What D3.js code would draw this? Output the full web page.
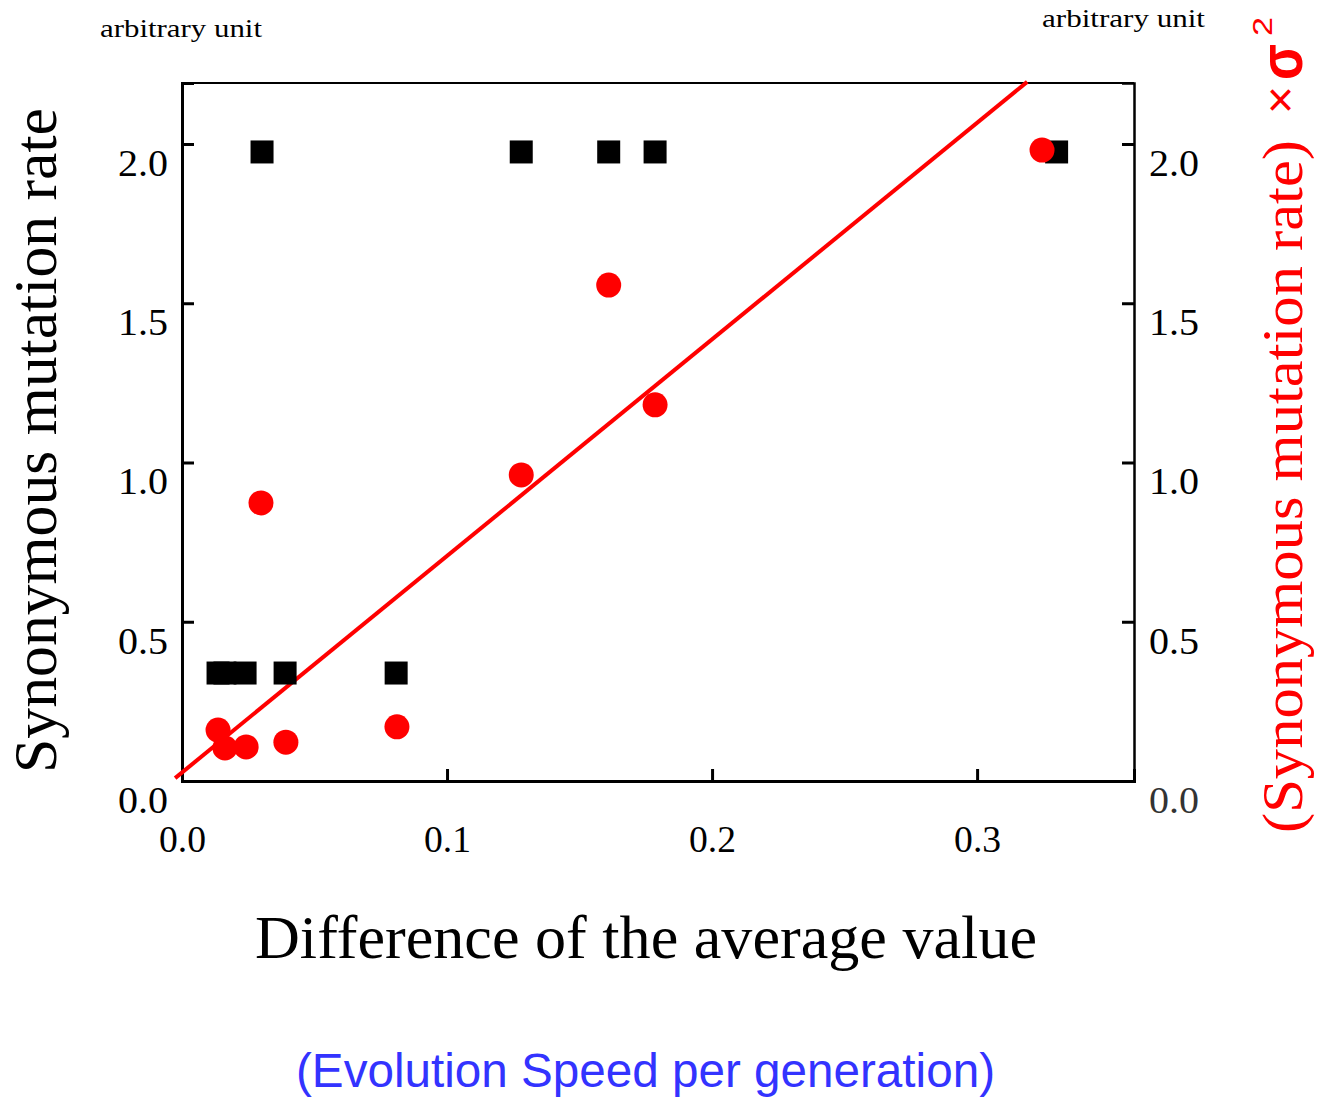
<!DOCTYPE html>
<html><head><meta charset="utf-8">
<script src="https://cdn.jsdelivr.net/npm/d3@7"></script>
<style>body{margin:0;background:#fff}</style>
</head><body>
<script>
const xTicks = [0.0, 0.1, 0.2, 0.3];
const yTicks = [0.0, 0.5, 1.0, 1.5, 2.0];
const squareX = [0.0136, 0.0162, 0.0238, 0.0389, 0.0808, 0.0302, 0.128, 0.161, 0.1785, 0.330];
const squareY = [0.339, 0.339, 0.339, 0.339, 0.339, 1.975, 1.975, 1.975, 1.975, 1.975];
const circleX = [0.0136, 0.0162, 0.0242, 0.0392, 0.0811, 0.0298, 0.128, 0.161, 0.1785, 0.3245];
const circleY = [0.160, 0.104, 0.107, 0.122, 0.170, 0.873, 0.961, 1.557, 1.181, 1.981];
const fitLineX = [-0.0026, 0.3189];
const fitLineY = [0.009, 2.195];

const W = 1322, H = 1099;
const L = 182, R = 1134, T = 83, B = 781;
const svg = d3.select("body").append("svg").attr("width", W).attr("height", H);
const x = d3.scaleLinear().domain([0, 0.3592]).range([L, R]);
const y = d3.scaleLinear().domain([0, 2.1915]).range([B, T]);
const serif = "'Liberation Serif','Times New Roman',serif";
const sans = "'Liberation Sans',Arial,sans-serif";

// frame
svg.append("line").attr("x1", L).attr("x2", R).attr("y1", T).attr("y2", T).attr("stroke", "#000").attr("stroke-width", 2);

// axes with inward ticks
const gx = svg.append("g").attr("transform", `translate(0,${B})`)
  .call(d3.axisTop(x).tickValues(xTicks).tickSize(12).tickFormat(""));
const gy = svg.append("g").attr("transform", `translate(${L},0)`)
  .call(d3.axisRight(y).tickValues(yTicks).tickSize(12).tickFormat(""));
const gy2 = svg.append("g").attr("transform", `translate(${R},0)`)
  .call(d3.axisLeft(y).tickValues(yTicks).tickSize(12).tickFormat(""));
[gx, gy, gy2].forEach(g => {
  g.selectAll("path").attr("stroke", "#000").attr("stroke-width", 3);
  g.selectAll("line").attr("stroke", "#000").attr("stroke-width", 3);
  g.selectAll(".tick").filter(d => d === 0).remove();
});
gy2.selectAll("path").attr("stroke-width", 2.5);

// tick labels
svg.selectAll(".xl").data(xTicks).enter().append("text")
  .attr("x", d => x(d) - 23).attr("y", 852)
  .attr("font-family", serif).attr("font-size", 37)
  .attr("textLength", 47).attr("lengthAdjust", "spacingAndGlyphs").text(d => d.toFixed(1));
svg.selectAll(".yl").data(yTicks).enter().append("text")
  .attr("x", 118).attr("y", d => y(d) + 32)
  .attr("font-family", serif).attr("font-size", 37)
  .attr("textLength", 50).attr("lengthAdjust", "spacingAndGlyphs").text(d => d.toFixed(1));
svg.selectAll(".yr").data(yTicks).enter().append("text")
  .attr("x", 1149).attr("y", d => y(d) + 32)
  .attr("font-family", serif).attr("font-size", 37).attr("fill", d => d === 0 ? "#333" : "#000")
  .attr("textLength", 50).attr("lengthAdjust", "spacingAndGlyphs").text(d => d.toFixed(1));

// fit line
const lineData = fitLineX.map((v, i) => [v, fitLineY[i]]);
svg.append("path").datum(lineData)
  .attr("d", d3.line().x(d => x(d[0])).y(d => y(d[1])))
  .attr("stroke", "#ff0000").attr("stroke-width", 4).attr("fill", "none");

// squares
const S = 23;
svg.selectAll(".sq").data(squareX.map((v, i) => [v, squareY[i]])).enter().append("rect")
  .attr("x", d => x(d[0]) - S / 2).attr("y", d => y(d[1]) - S / 2)
  .attr("width", S).attr("height", S).attr("fill", "#000");

// circles
svg.selectAll(".ci").data(circleX.map((v, i) => [v, circleY[i]])).enter().append("circle")
  .attr("cx", d => x(d[0])).attr("cy", d => y(d[1])).attr("r", 12.5).attr("fill", "#ff0000");

// labels
svg.append("text").attr("x", 100).attr("y", 37).attr("font-family", serif).attr("font-size", 25)
  .attr("textLength", 162).attr("lengthAdjust", "spacingAndGlyphs").text("arbitrary unit");
svg.append("text").attr("x", 1042).attr("y", 27).attr("font-family", serif).attr("font-size", 25)
  .attr("textLength", 163).attr("lengthAdjust", "spacingAndGlyphs").text("arbitrary unit");

svg.append("text").attr("transform", "translate(56,773) rotate(-90)")
  .attr("font-family", serif).attr("font-size", 62)
  .attr("textLength", 665).attr("lengthAdjust", "spacingAndGlyphs").text("Synonymous mutation rate");

const rg = svg.append("g").attr("transform", "translate(1302,833) rotate(-90)").attr("fill", "#ff0000");
rg.append("text").attr("x", 0).attr("y", 0).attr("font-family", serif).attr("font-size", 56)
  .attr("textLength", 693).attr("lengthAdjust", "spacingAndGlyphs").text("(Synonymous mutation rate)");
rg.append("text").attr("x", 719).attr("y", -6).attr("font-family", sans).attr("font-size", 46)
  .attr("textLength", 28).attr("lengthAdjust", "spacingAndGlyphs").text("\u00d7");
rg.append("text").attr("x", 753).attr("y", 0).attr("font-family", sans).attr("font-weight", "bold").attr("font-size", 62)
  .attr("textLength", 36).attr("lengthAdjust", "spacingAndGlyphs").text("\u03c3");
rg.append("text").attr("x", 797).attr("y", -30).attr("font-family", sans).attr("font-size", 28)
  .attr("textLength", 19).attr("lengthAdjust", "spacingAndGlyphs").text("2");

svg.append("text").attr("x", 255).attr("y", 958)
  .attr("font-family", serif).attr("font-size", 62)
  .attr("textLength", 782).attr("lengthAdjust", "spacingAndGlyphs").text("Difference of the average value");

svg.append("text").attr("x", 296).attr("y", 1087)
  .attr("font-family", sans).attr("font-size", 48).attr("fill", "#3333ff")
  .attr("textLength", 699).attr("lengthAdjust", "spacingAndGlyphs").text("(Evolution Speed per generation)");
</script>
</body></html>
